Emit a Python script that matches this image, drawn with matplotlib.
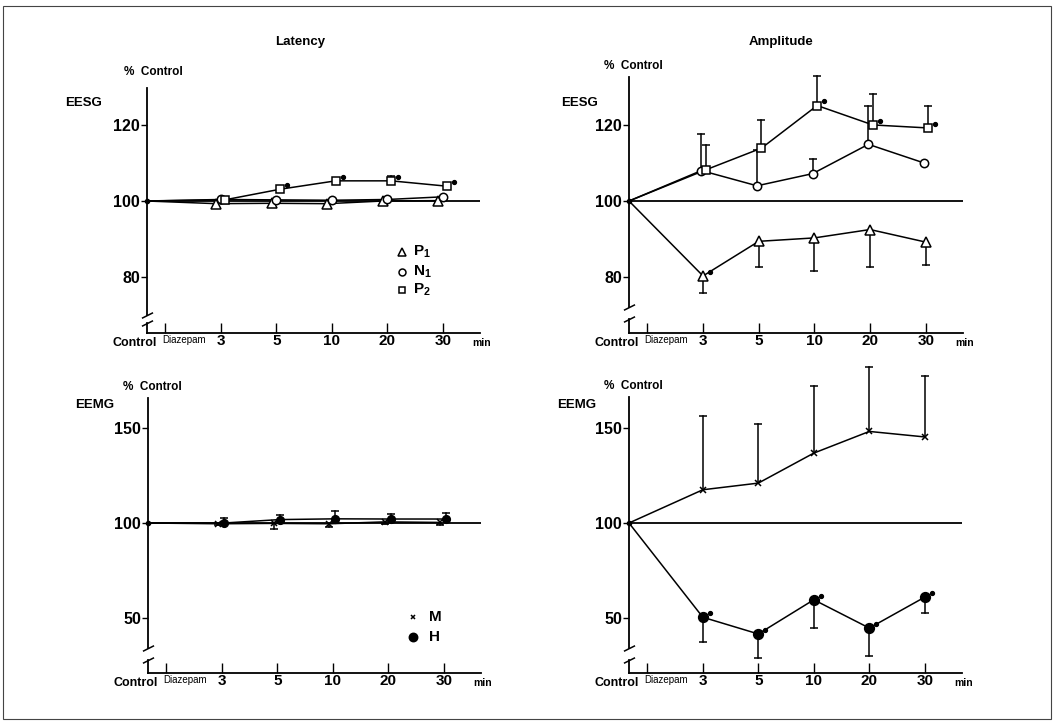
import matplotlib
matplotlib.use('Agg')
import matplotlib.pyplot as plt
from matplotlib.patches import Rectangle
from matplotlib.transforms import ScaledTranslation
import numpy as np

# данные
times = ['3', '5', '10', '20', '30']

# латентность EESG
p1_lat = [99.3, 99.4, 99.3, 100.0, 100.1]
p1_lat_lo = [0.7, 0.7, 0.6, 0.4, 0.8]
n1_lat = [100.4, 100.3, 100.2, 100.4, 101.1]
p2_lat = [100.3, 103.1, 105.3, 105.3, 103.9]
p2_lat_hi = [0, 0, 0, 1.2, 0]
p2_lat_star = [0, 1, 1, 1, 1]

# амплитуда EESG
p1_amp = [80.3, 89.4, 90.3, 92.5, 89.2]
p1_amp_lo = [4.6, 6.7, 8.6, 9.8, 6.1]
p1_amp_star = [1, 0, 0, 0, 0]
n1_amp = [108.0, 104.0, 107.2, 114.9, 110.0]
n1_amp_hi = [9.5, 9.4, 3.8, 10.2, 0]
p2_amp = [108.2, 113.9, 125.1, 120.0, 119.2]
p2_amp_hi = [6.6, 7.4, 7.8, 8.1, 5.9]
p2_amp_star = [0, 0, 1, 1, 1]

# латентность EEMG
m_lat = [99.6, 99.8, 99.6, 100.6, 100.3]
m_lat_lo = [0.9, 2.7, 1.9, 1.0, 1.6]
h_lat = [100.0, 101.8, 102.2, 102.1, 102.1]
h_lat_hi = [2.5, 2.6, 4.1, 2.8, 3.0]

# амплитуда EEMG
m_amp = [117.5, 121.0, 136.8, 148.2, 145.3]
m_amp_hi = [38.6, 31.1, 35.1, 33.9, 32.1]
h_amp = [50.4, 41.6, 59.6, 44.7, 61.0]
h_amp_lo = [13.0, 12.7, 14.7, 14.9, 8.4]
h_amp_star = [1, 1, 1, 1, 1]

plt.rcParams['font.family'] = ['Liberation Sans', 'DejaVu Sans']
plt.rcParams['font.weight'] = 'bold'
plt.rcParams['mathtext.fontset'] = 'custom'
plt.rcParams['mathtext.bf'] = 'Liberation Sans:bold'
plt.rcParams['mathtext.rm'] = 'Liberation Sans:bold'

W, H = 1055, 724
fig = plt.figure(figsize=(W / 100, H / 100), dpi=100)
X0 = -0.33  # положение оси (Control)
pos = np.arange(1, len(times) + 1)

styles = {
    'P1': dict(marker='^', ms=6.5, mfc='white'),
    'N1': dict(marker='o', ms=6, mfc='white'),
    'P2': dict(marker='s', ms=5.5, mfc='white'),
    'M': dict(marker='x', ms=4.5, mfc='black'),
    'H': dict(marker='o', ms=7, mfc='black'),
}


def ftxt(x, y, s, **kw):
    fig.text(x / W, 1 - y / H, s, ha='center', va='center', **kw)


def make_ax(left, right, top, bottom, ylim, spine_top, brk, yticks):
    ax = fig.add_axes([left / W, 1 - bottom / H, (right - left) / W, (bottom - top) / H])
    ax.set_xlim(X0, 5.67)
    ax.set_ylim(*ylim)
    for s in ['top', 'right', 'left']:
        ax.spines[s].set_visible(False)
    ax.spines['bottom'].set_linewidth(1.3)
    # ось Y с разрывом
    ax.plot([X0, X0], [spine_top, brk[0]], color='black', lw=1.3, clip_on=False)
    ax.plot([X0, X0], [brk[1], ylim[0]], color='black', lw=1.3, clip_on=False)
    ax.plot([X0, X0], brk, ls='none', marker=[(-1, -0.5), (1, 0.5)], ms=8,
            mec='black', mew=1.1, clip_on=False)
    ax.axhline(100, color='black', lw=1.3, zorder=1)
    ax.plot([X0], [100], 'o', color='black', ms=3, clip_on=False)
    ax.set_xticks([0] + list(pos))
    ax.set_xticklabels([''] + times, fontsize=11, fontweight='bold')
    ax.tick_params(axis='x', direction='in', length=7, width=1, pad=0.5)
    ax.set_yticks(yticks)
    ax.set_yticklabels([str(t) for t in yticks], fontsize=11.5, fontweight='bold')
    ax.tick_params(axis='y', direction='out', length=4, width=1, pad=1)
    ax.annotate('Control', xy=(X0, 0), xycoords=('data', 'axes fraction'), xytext=(-9, -7),
                textcoords='offset points', ha='center', va='center', fontsize=9, fontweight='bold')
    ax.annotate('Diazepam', xy=(0, 0), xycoords=('data', 'axes fraction'), xytext=(-2, -5),
                textcoords='offset points', ha='left', va='center', fontsize=7, fontweight='normal')
    ax.annotate('min', xy=(1, 0), xycoords='axes fraction', xytext=(1, -7.5),
                textcoords='offset points', ha='center', va='center', fontsize=7.5, fontweight='bold')
    return ax


def series(ax, name, vals, dx=0.0, lo=None, hi=None, star=None, ms=None):
    x = pos + dx
    ax.plot(np.r_[X0, x], np.r_[100, vals], color='black', lw=1.1, zorder=2, clip_on=False)
    for err, sign in [(lo, -1), (hi, 1)]:
        if err is None:
            continue
        for xi, yi, e in zip(x, vals, err):
            if e > 0:
                ax.plot([xi, xi], [yi, yi + sign * e], color='black', lw=1.1, zorder=2, clip_on=False)
                ax.plot([xi], [yi + sign * e], marker='_', ms=5.5, mew=1.1, color='black', clip_on=False)
    st = styles[name]
    ax.plot(x, vals, ls='none', marker=st['marker'], ms=ms or st['ms'], mfc=st['mfc'],
            mec='black', mew=1.1, zorder=3, clip_on=False)
    if star is not None:
        shift = ax.transData + ScaledTranslation(5 / 72, 3 / 72, fig.dpi_scale_trans)
        for xi, yi, s in zip(x, vals, star):
            if s:
                ax.plot([xi], [yi], ls='none', marker='o', ms=2.8, color='black', zorder=4,
                        transform=shift)


def legend(ax, items, x_mark, x_txt, ys):
    for (name, label), y in zip(items, ys):
        st = styles[name]
        ax.plot([x_mark], [y], transform=ax.transAxes, ls='none', marker=st['marker'],
                ms=st['ms'] - 1, mfc=st['mfc'], mec='black', mew=1.1, clip_on=False)
        ax.text(x_txt, y, label, transform=ax.transAxes, ha='left', va='center',
                fontsize=11, fontweight='bold')


# верхний ряд: EESG
ax1 = make_ax(147, 480, 77, 333, (65.3, 132.6), 129.7, (70.0, 67.9), [80, 100, 120])
series(ax1, 'P1', p1_lat, -0.08, lo=p1_lat_lo)
series(ax1, 'N1', n1_lat, 0.0)
series(ax1, 'P2', p2_lat, 0.07, hi=p2_lat_hi, star=p2_lat_star)
legend(ax1, [('P1', r'$\mathbf{P_1}$'), ('N1', r'$\mathbf{N_1}$'), ('P2', r'$\mathbf{P_2}$')],
       0.766, 0.8, [0.316, 0.24, 0.168])

ax2 = make_ax(629, 963, 77, 333, (65.3, 132.6), 132.6, (72.1, 68.9), [80, 100, 120])
series(ax2, 'P1', p1_amp, 0.0, lo=p1_amp_lo, star=p1_amp_star)
series(ax2, 'N1', n1_amp, -0.03, hi=n1_amp_hi)
series(ax2, 'P2', p2_amp, 0.05, hi=p2_amp_hi, star=p2_amp_star)

# нижний ряд: EEMG
ax3 = make_ax(148, 481, 398, 673, (21.05, 165.8), 165.8, (34.2, 27.9), [50, 100, 150])
series(ax3, 'M', m_lat, -0.06, lo=m_lat_lo)
series(ax3, 'H', h_lat, 0.04, hi=h_lat_hi, ms=5.5)
legend(ax3, [('M', 'M'), ('H', 'H')], 0.796, 0.845, [0.204, 0.131])

ax4 = make_ax(629, 962, 398, 673, (21.05, 165.8), 166.3, (34.2, 27.9), [50, 100, 150])
series(ax4, 'M', m_amp, 0.0, hi=m_amp_hi)
series(ax4, 'H', h_amp, 0.0, lo=h_amp_lo, star=h_amp_star)

# подписи
ftxt(300, 42, 'Latency', fontsize=9.5, fontweight='bold')
ftxt(781, 42, 'Amplitude', fontsize=9.5, fontweight='bold')
ftxt(153, 72, '%  Control', fontsize=8.5, fontweight='bold')
ftxt(633, 66, '%  Control', fontsize=8.5, fontweight='bold')
ftxt(152, 387, '%  Control', fontsize=8.5, fontweight='bold')
ftxt(633, 386, '%  Control', fontsize=8.5, fontweight='bold')
ftxt(84, 103, 'EESG', fontsize=9.5, fontweight='bold')
ftxt(580, 103, 'EESG', fontsize=9.5, fontweight='bold')
ftxt(95, 405, 'EEMG', fontsize=9.5, fontweight='bold')
ftxt(577, 405, 'EEMG', fontsize=9.5, fontweight='bold')

# рамка
fig.add_artist(Rectangle((3 / W, 1 - 719 / H), 1048 / W, 713 / H, transform=fig.transFigure,
                         fill=False, edgecolor='#444444', lw=0.8))

fig.savefig('out.png', dpi=100)
